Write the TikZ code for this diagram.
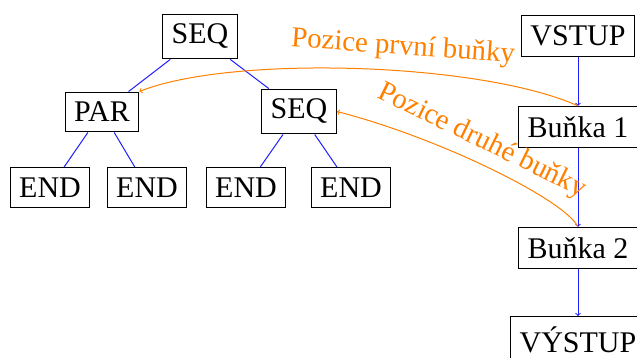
\documentclass[tikz,border=0pt]{standalone}
\usepackage{fontspec}
\setmainfont{Liberation Serif}
\definecolor{noteorange}{RGB}{255,128,0}
\definecolor{treeblue}{RGB}{30,30,255}
\begin{document}
\begin{tikzpicture}[x=1pt,y=-1pt,>=to,
  box/.style={draw, line width=1.1pt, inner xsep=9pt, inner ysep=10pt,
              font=\fontsize{30}{36}\selectfont},
  treeline/.style={treeblue, line width=1pt},
  flow/.style={treeblue, line width=1pt, ->},
  note/.style={noteorange, line width=1pt, ->},
  notetext/.style={noteorange, font=\fontsize{28.8}{34}\selectfont, inner sep=0pt}]
\clip (0,0) rectangle (637,358);
\useasboundingbox (0,0) rectangle (637,358);

% tree
\node[box] (root) at (200,36.5) {SEQ};
\node[box] (par)  at (102,112) {PAR};
\node[box] (seq)  at (299,111.5) {SEQ};
\node[box] (e1) at (50,187.5) {END};
\node[box] (e2) at (147,187.5) {END};
\node[box] (e3) at (246,187.5) {END};
\node[box] (e4) at (351,187.5) {END};

\draw[treeline] (root) -- (par);
\draw[treeline] (root) -- (seq);
\draw[treeline] (par) -- (e1);
\draw[treeline] (par) -- (e2);
\draw[treeline] (seq) -- (e3);
\draw[treeline] (seq) -- (e4);

% cell list
\node[box] (in)  at (578,36) {VSTUP};
\node[box] (b1)  at (578,127) {Buňka 1};
\node[box] (b2)  at (578,248) {Buňka 2};
\node[box, anchor=north] (out) at (578,316) {VÝSTUP};

\draw[flow] (in) -- (b1);
\draw[flow] (b1) -- (b2);
\draw[flow] (b2) -- (out);

% position links
\draw[note] (b1.north) .. controls (480,62) and (230,55) .. (par.north east);
\draw[note] (b2.north) .. controls (565,200) and (440,138) .. (seq.east);

\node[notetext, rotate=-4] (l1) at (403,47.5) {Pozice první buňky};
\node[notetext, rotate=-26] (l2) at (482,141) {Pozice druhé buňky};
\end{tikzpicture}
\end{document}
